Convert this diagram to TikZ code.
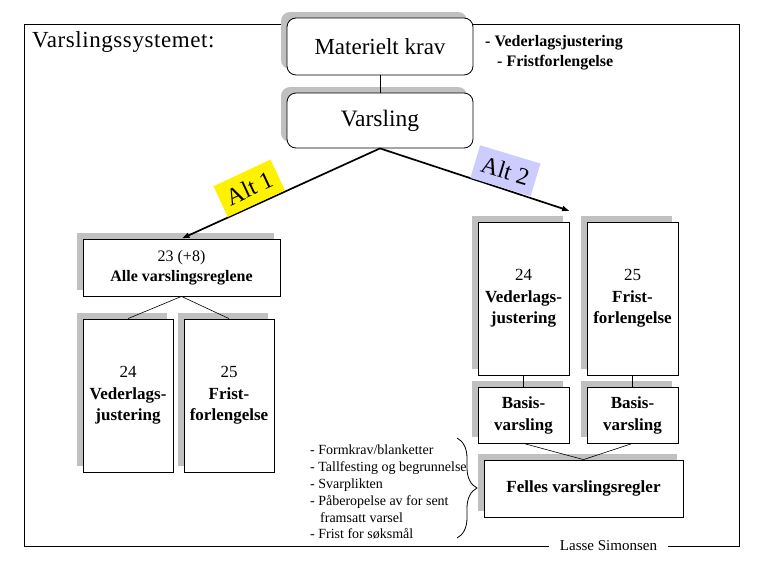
\documentclass[tikz,border=0pt]{standalone}
\usepackage{fontspec}
\setmainfont{Liberation Serif}
\newfontfamily\widefont[LetterSpace=2.5]{Liberation Serif}
\usetikzlibrary{shadows,arrows.meta,decorations.pathreplacing}
\definecolor{shadowgray}{RGB}{192,192,192}
\definecolor{altblue}{RGB}{204,204,255}
\begin{document}
\begin{tikzpicture}[x=1pt,y=-1pt,
  shbox/.style={draw=black, line width=0.8pt, fill=white,
    drop shadow={shadow xshift=-6pt, shadow yshift=6pt, fill=shadowgray, opacity=1},
    align=center, inner sep=0pt},
  rbox/.style={shbox, rounded corners=9pt, minimum width=186pt},
  tallbox/.style={shbox, minimum width=90pt, minimum height=153pt, font=\fontsize{17}{21.5}\selectfont},
  basisbox/.style={shbox, minimum width=90pt, minimum height=56pt, font=\bfseries\fontsize{17}{22}\selectfont},
  link/.style={draw=black, line width=0.6pt},
  altarrow/.style={draw=black, line width=1.7pt, -{Latex[length=8pt,width=6pt]}},
  altlabel/.style={inner sep=0pt, minimum width=63pt, minimum height=34pt, font=\fontsize{24}{28}\selectfont},
]
\useasboundingbox (0,0) rectangle (765,570);
\draw[line width=0.8pt] (24.5,24) rectangle (739.5,546);

\node[anchor=base west, inner sep=0pt, font=\widefont\fontsize{23}{27}\selectfont] (title) at (32,47) {Varslingssystemet:};

\node[rbox, minimum height=57pt, font=\fontsize{23}{27}\selectfont] (mk) at (380,46.5) {Materielt krav};
\node[anchor=base west, inner sep=0pt, font=\bfseries\fontsize{16}{20}\selectfont] (vf1) at (485,46) {- Vederlagsjustering};
\node[anchor=base west, inner sep=0pt, font=\bfseries\fontsize{16}{20}\selectfont] (vf2) at (497,66) {- Fristforlengelse};

\node[rbox, minimum height=55pt, font=\fontsize{23.5}{27}\selectfont] (var) at (380,120.5) {Varsling};

\node[shbox, minimum width=197pt, minimum height=57pt, font=\fontsize{16}{20}\selectfont] (b23) at (181.5,267.5) {23 (+8)\\\textbf{Alle varslingsreglene}};
\node[tallbox] (l24) at (128,395.5) {24\\\textbf{Vederlags-}\\\textbf{justering}};
\node[tallbox] (l25) at (229,395.5) {25\\\textbf{Frist-}\\\textbf{forlengelse}};

\node[tallbox, minimum width=91pt] (r24) at (523.5,298.5) {24\\\textbf{Vederlags-}\\\textbf{justering}};
\node[tallbox, minimum width=91pt] (r25) at (632.5,298.5) {25\\\textbf{Frist-}\\\textbf{forlengelse}};
\node[basisbox, minimum width=91pt] (bs1) at (523.5,415) {Basis-\\varsling};
\node[basisbox, minimum width=91pt] (bs2) at (632.5,415) {Basis-\\varsling};
\node[shbox, minimum width=199pt, minimum height=57pt, font=\bfseries\fontsize{17}{21}\selectfont] (fel) at (583.5,488.5) {Felles varslingsregler};

\coordinate (a2end) at (570,211);
\draw[link] (mk.south) -- (var.north);
\draw[altarrow] (var.south) -- (b23.north);
\draw[altarrow] (var.south) -- (a2end);
\node[altlabel, fill=yellow, rotate=25] (alt1) at (249.2,188.3) {Alt 1};
\node[altlabel, fill=altblue, rotate=-16.8] (alt2) at (505.4,170.7) {Alt 2};

\draw[link] (b23.south) -- (l24.north);
\draw[link] (b23.south) -- (l25.north);
\draw[link] (r24.south) -- (bs1.north);
\draw[link] (r25.south) -- (bs2.north);
\draw[link] (bs1.south) -- (fel.north);
\draw[link] (bs2.south) -- (fel.north);

\node[anchor=north west, inner sep=0pt, align=left, font=\fontsize{14}{16.8}\selectfont] (list) at (310,445)
  {- Formkrav/blanketter\\- Tallfesting og begrunnelse\\- Svarplikten\\- Påberopelse av for sent\\\hspace*{10pt}framsatt varsel\\- Frist for søksmål};
\coordinate (brtop) at (457,438);
\coordinate (brbot) at (457,538);
\draw[line width=0.8pt, decorate, decoration={brace, amplitude=20pt}] (brtop) -- (brbot);

\node[fill=white, inner xsep=11pt, inner ysep=2pt, font=\fontsize{15}{18}\selectfont] (ls) at (608.5,546) {Lasse Simonsen};
\end{tikzpicture}
\end{document}
